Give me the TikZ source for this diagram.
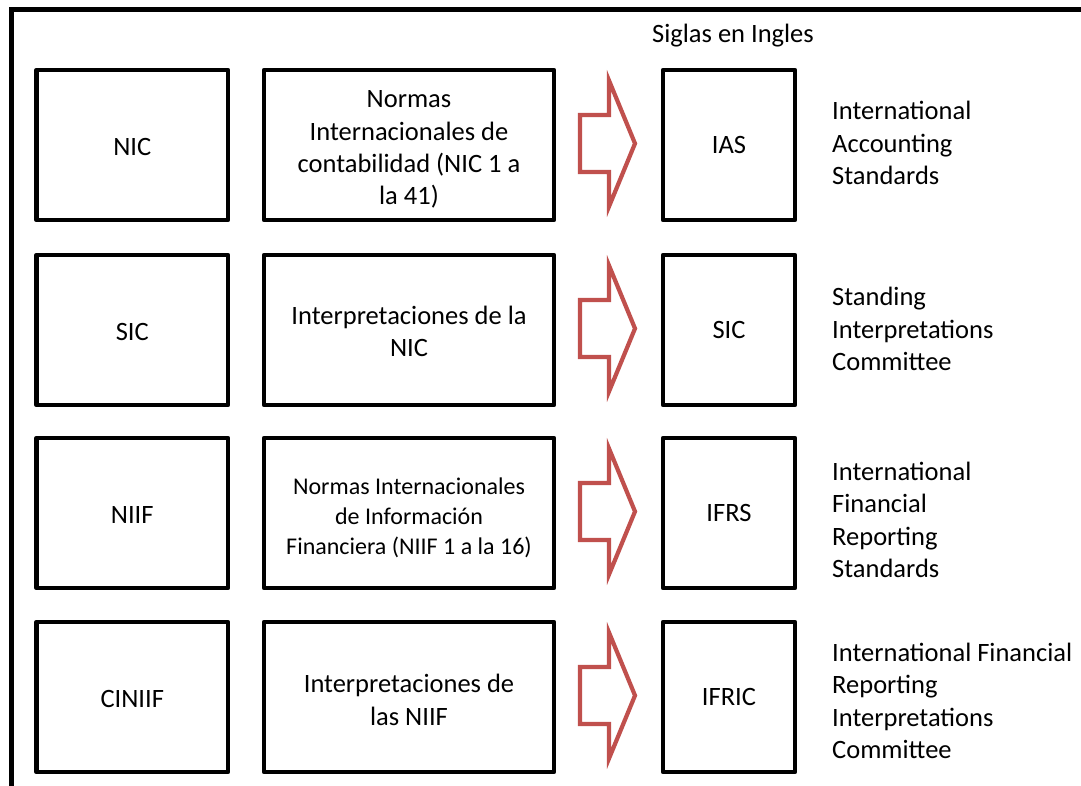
\documentclass[tikz,border=0pt]{standalone}
\usepackage{fontspec}
\setmainfont{Carlito}
\newcommand{\mainsz}{\fontsize{26.5}{32.3}\selectfont}
\newcommand{\smallsz}{\fontsize{24}{30}\selectfont}
\definecolor{arrowred}{HTML}{C0504D}
\begin{document}
\begin{tikzpicture}[x=1pt,y=-1pt,
  bx/.style={draw, line width=4.5pt, line join=round, inner sep=0pt,
    minimum height=150pt, align=center, font=\mainsz},
  bxa/.style={bx, minimum width=191.5pt},
  bxb/.style={bx, minimum width=290pt},
  bxc/.style={bx, minimum width=132pt},
  txt/.style={inner sep=0pt, align=center, font=\mainsz},
  side/.style={anchor=west, inner sep=0pt, align=left, font=\mainsz},
  redarrow/.style={draw=arrowred, line width=4.2pt, line join=miter}]
\useasboundingbox (0,0) rectangle (1081,785);
\clip (0,0) rectangle (1081,785);
% outer frame
\draw[line width=5pt] (11,800) -- (11,9.5) -- (1100,9.5);
\node[anchor=base, inner sep=0pt, font=\mainsz] (title) at (733,42) {Siglas en Ingles};
% row 1
\node[bxa] (nic) at (132.25,145) {};
\node[txt] (nict) at ([yshift=-2pt]nic.center) {NIC};
\node[bxb] (nicd) at (409,145) {};
\node[txt] (nicdt) at ([yshift=-4.5pt]nicd.center) {Normas\\Internacionales de\\contabilidad (NIC 1 a\\la 41)};
\node[bxc] (ias) at (729,145) {IAS};
\node[side] (iasd) at (832,143) {International\\Accounting\\Standards};
% row 2
\node[bxa] (sic) at (132.25,330) {};
\node[txt] (sict) at ([yshift=-2pt]sic.center) {SIC};
\node[bxb] (sicd) at (409,330) {};
\node[txt] (sicdt) at ([yshift=-1.5pt]sicd.center) {Interpretaciones de la\\NIC};
\node[bxc] (sice) at (729,330) {SIC};
\node[side] (sicf) at (832,329) {Standing\\Interpretations\\Committee};
% row 3
\node[bxa] (niif) at (132.25,513) {};
\node[txt] (niift) at ([yshift=-2pt]niif.center) {NIIF};
\node[bxb] (niifd) at (409,513) {};
\node[txt, font=\smallsz] (niifdt) at ([yshift=-4.5pt]niifd.center) {Normas Internacionales\\de Información\\Financiera (NIIF 1 a la 16)};
\node[bxc] (ifrs) at (729,513) {IFRS};
\node[side] (ifrsd) at (832,520) {International\\Financial\\Reporting\\Standards};
% row 4
\node[bxa] (ciniif) at (132.25,697) {};
\node[txt] (ciniift) at ([yshift=-2pt]ciniif.center) {CINIIF};
\node[bxb] (ciniifd) at (409,697) {};
\node[txt] (ciniifdt) at ([yshift=-3pt]ciniifd.center) {Interpretaciones de\\las NIIF};
\node[bxc] (ifric) at (729,697) {IFRIC};
\node[side] (ifricd) at (832,701) {International Financial\\Reporting\\Interpretations\\Committee};
% block arrows
\foreach \c in {143.5,328.5,511.5,695.5}
  \draw[redarrow, shift={(0,\c)}] (580,-28.5) -- (609,-28.5) -- (609,-63)
    -- (635,0) -- (609,63) -- (609,28.5) -- (580,28.5) -- cycle;
\end{tikzpicture}
\end{document}
